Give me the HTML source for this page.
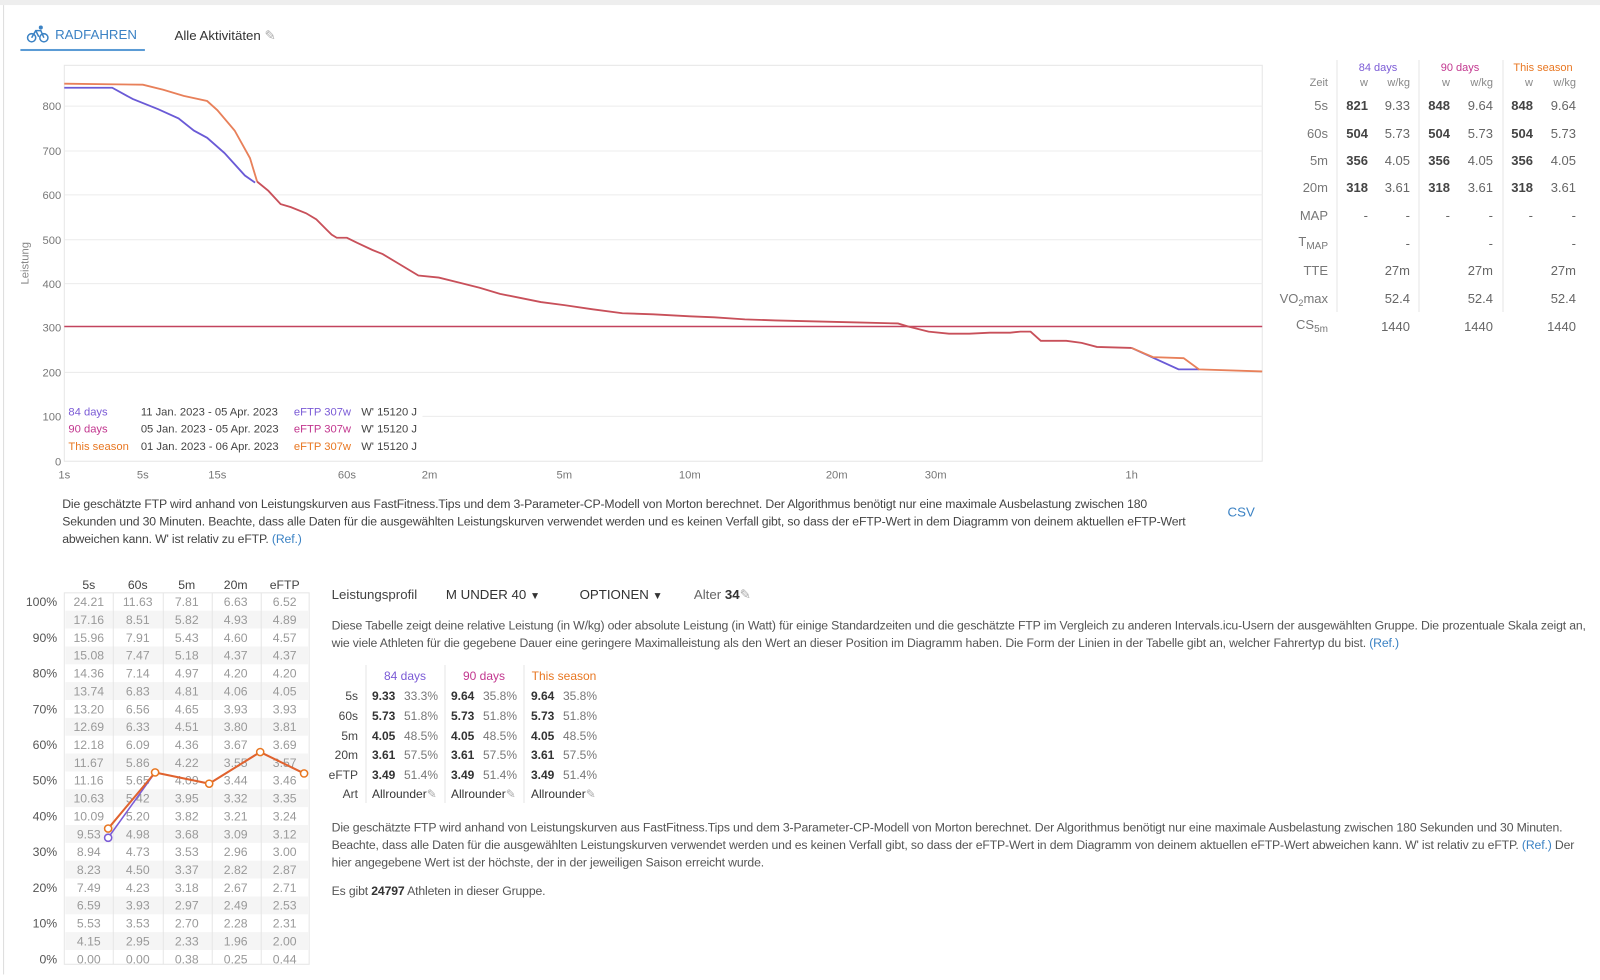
<!DOCTYPE html>
<html><head><meta charset="utf-8"><style>
body{margin:0;width:1600px;height:972px;background:#fff;font-family:"Liberation Sans",sans-serif;color:#333;position:relative;overflow:hidden}
#w{position:absolute;left:0;top:0;width:1568px;height:953px;transform:scale(1.0204);transform-origin:0 0}
.a{position:absolute;white-space:nowrap}
.t{font-size:12px;letter-spacing:-0.15px}
</style></head><body>
<div id="w">
<div class="a" style="left:0;top:0;width:1568px;height:5px;background:#eee"></div>
<div class="a" style="left:3px;top:5px;width:1px;height:950px;background:#ddd"></div>
<svg class="a" style="left:26px;top:24px" width="22" height="18" viewBox="0 0 22 18"><circle cx="5" cy="13" r="4" fill="none" stroke="#3b82c4" stroke-width="1.5"/><circle cx="17" cy="13" r="4" fill="none" stroke="#3b82c4" stroke-width="1.5"/><path d="M5 13 L9 6 L14 6 L17 13 M9 6 L12 12" fill="none" stroke="#3b82c4" stroke-width="1.5"/><circle cx="14" cy="3" r="2" fill="#3b82c4"/></svg>
<div class="a" style="left:54px;top:26px;font-size:13px;color:#3b82c4">RADFAHREN</div>
<div class="a" style="left:20px;top:48px;width:122px;height:2px;background:#5b9bd5"></div>
<div class="a" style="left:171px;top:27px;font-size:13px;color:#333">Alle Aktivitäten <span style="color:#aaa">✎</span></div>

<svg class="a" style="left:0;top:0" width="1240" height="480">
<rect x="63" y="64" width="1174" height="388" fill="none" stroke="#e6e6e6"/>
<g stroke="#ececec"><line x1="63" x2="1237" y1="104" y2="104"/><line x1="63" x2="1237" y1="148" y2="148"/><line x1="63" x2="1237" y1="191" y2="191"/><line x1="63" x2="1237" y1="235" y2="235"/><line x1="63" x2="1237" y1="278" y2="278"/><line x1="63" x2="1237" y1="365" y2="365"/><line x1="63" x2="1237" y1="408" y2="408"/></g>
<g font-size="11" fill="#777" text-anchor="end"><text x="60" y="108">800</text><text x="60" y="152">700</text><text x="60" y="195">600</text><text x="60" y="239">500</text><text x="60" y="282">400</text><text x="60" y="325">300</text><text x="60" y="369">200</text><text x="60" y="412">100</text><text x="60" y="456">0</text></g>
<text x="28" y="258" font-size="11" fill="#888" transform="rotate(-90 28 258)" text-anchor="middle">Leistung</text>
<g font-size="11" fill="#777" text-anchor="middle"><text x="63" y="469">1s</text><text x="140" y="469">5s</text><text x="213" y="469">15s</text><text x="340" y="469">60s</text><text x="421" y="469">2m</text><text x="553" y="469">5m</text><text x="676" y="469">10m</text><text x="820" y="469">20m</text><text x="917" y="469">30m</text><text x="1109" y="469">1h</text></g>
<line x1="63" x2="1237" y1="320" y2="320" stroke="#c2435e" stroke-width="1.5"/>
<polyline fill="none" stroke="#6a5ad6" stroke-width="1.8" points="63,86 110,86 130,97 155,107 175,116 190,128 203,135 220,150 240,172 250,179"/>
<polyline fill="none" stroke="#6a5ad6" stroke-width="1.8" points="1109,341 1155,362 1175,362"/>
<polyline fill="none" stroke="#e8805a" stroke-width="1.8" points="63,82 140,83 160,88 180,94 203,99 213,108 230,128 245,155 252,178"/>
<polyline fill="none" stroke="#c8505a" stroke-width="1.8" points="252,178 263,187 275,200 285,203 300,209 310,215 320,225 325,230 330,233 340,233 350,238 365,245 375,249 390,258 410,270 430,272 450,277 470,282 490,288 510,292 530,296 553,299 580,303 610,307 640,308 676,310 700,311 730,313 760,314 800,315 840,316 880,317 890,320 910,325 930,327 950,327 970,326 990,326 1000,325 1010,325 1020,334 1045,334 1060,336 1075,340 1109,341"/>
<polyline fill="none" stroke="#e8805a" stroke-width="1.8" points="1109,341 1130,350 1160,351 1175,362 1237,364"/>
<rect x="64" y="393" width="350" height="54" fill="#fff"/>
<g font-size="11"><text x="67" y="407" fill="#7b5bd6">84 days</text><text x="67" y="424" fill="#c2378f">90 days</text><text x="67" y="441" fill="#e87722">This season</text>
<g fill="#444"><text x="138" y="407">11 Jan. 2023 - 05 Apr. 2023</text><text x="138" y="424">05 Jan. 2023 - 05 Apr. 2023</text><text x="138" y="441">01 Jan. 2023 - 06 Apr. 2023</text>
<text x="354" y="407">W' 15120 J</text><text x="354" y="424">W' 15120 J</text><text x="354" y="441">W' 15120 J</text></g>
<text x="288" y="407" fill="#7b5bd6">eFTP 307w</text><text x="288" y="424" fill="#c2378f">eFTP 307w</text><text x="288" y="441" fill="#e87722">eFTP 307w</text></g>
</svg>

<div class="a t" style="left:61px;top:486px;width:1118px;line-height:17px;white-space:normal;color:#444">Die geschätzte FTP wird anhand von Leistungskurven aus FastFitness.Tips und dem 3-Parameter-CP-Modell von Morton berechnet. Der Algorithmus benötigt nur eine maximale Ausbelastung zwischen 180 Sekunden und 30 Minuten. Beachte, dass alle Daten für die ausgewählten Leistungskurven verwendet werden und es keinen Verfall gibt, so dass der eFTP-Wert in dem Diagramm von deinem aktuellen eFTP-Wert abweichen kann. W' ist relativ zu eFTP. <span style="color:#3b82c4">(Ref.)</span></div>
<div class="a" style="left:1203px;top:494px;font-size:13px;color:#3b82c4">CSV</div>

<svg class="a" style="left:0;top:560px" width="320" height="400" font-size="12">
<rect x="63" y="21" width="240" height="364" fill="#fff" stroke="#e6e6e6"/>
<g fill="#f5f5f5" id="stripes"></g>
<g stroke="#e6e6e6"><line x1="111" x2="111" y1="21" y2="385"/><line x1="160" x2="160" y1="21" y2="385"/><line x1="208" x2="208" y1="21" y2="385"/><line x1="256" x2="256" y1="21" y2="385"/></g>
<g text-anchor="middle" fill="#444"><text x="87" y="17">5s</text><text x="135" y="17">60s</text><text x="183" y="17">5m</text><text x="231" y="17">20m</text><text x="279" y="17">eFTP</text></g>
<g id="tbl" text-anchor="middle" fill="#999"></g>
<g text-anchor="end" fill="#555"><text x="56" y="34">100%</text><text x="56" y="69">90%</text><text x="56" y="104">80%</text><text x="56" y="139">70%</text><text x="56" y="174">60%</text><text x="56" y="209">50%</text><text x="56" y="244">40%</text><text x="56" y="279">30%</text><text x="56" y="314">20%</text><text x="56" y="349">10%</text><text x="56" y="384">0%</text></g>
<polyline fill="none" stroke="#7b5bd6" stroke-width="1.5" points="106,261 152,197"/>
<circle cx="106" cy="261" r="3.5" fill="#fff" stroke="#7b5bd6" stroke-width="1.5"/>
<polyline fill="none" stroke="#e0622e" stroke-width="2" points="106,252 152,197 205,208 255,177 298,198"/>
<g fill="#fff" stroke="#e87722" stroke-width="1.5"><circle cx="106" cy="252" r="3.5"/><circle cx="152" cy="197" r="3.5"/><circle cx="205" cy="208" r="3.5"/><circle cx="255" cy="177" r="3.5"/><circle cx="298" cy="198" r="3.5"/></g>
</svg>

<div class="a" style="left:325px;top:575px;font-size:13px;color:#444">Leistungsprofil</div>
<div class="a" style="left:437px;top:575px;font-size:13px;color:#333">M UNDER 40 <span style="font-size:10px">▼</span></div>
<div class="a" style="left:568px;top:575px;font-size:13px;color:#333">OPTIONEN <span style="font-size:10px">▼</span></div>
<div class="a" style="left:680px;top:575px;font-size:13px;color:#666">Alter <b style="color:#333">34</b><span style="color:#aaa">✎</span></div>
<div class="a t" style="left:325px;top:605px;width:1240px;line-height:17px;white-space:normal;color:#555">Diese Tabelle zeigt deine relative Leistung (in W/kg) oder absolute Leistung (in Watt) für einige Standardzeiten und die geschätzte FTP im Vergleich zu anderen Intervals.icu-Usern der ausgewählten Gruppe. Die prozentuale Skala zeigt an, wie viele Athleten für die gegebene Dauer eine geringere Maximalleistung als den Wert an dieser Position im Diagramm haben. Die Form der Linien in der Tabelle gibt an, welcher Fahrertyp du bist. <span style="color:#3b82c4">(Ref.)</span></div>

<div class="a t" style="left:325px;top:803px;width:1240px;line-height:17px;white-space:normal;color:#555">Die geschätzte FTP wird anhand von Leistungskurven aus FastFitness.Tips und dem 3-Parameter-CP-Modell von Morton berechnet. Der Algorithmus benötigt nur eine maximale Ausbelastung zwischen 180 Sekunden und 30 Minuten. Beachte, dass alle Daten für die ausgewählten Leistungskurven verwendet werden und es keinen Verfall gibt, so dass der eFTP-Wert in dem Diagramm von deinem aktuellen eFTP-Wert abweichen kann. W' ist relativ zu eFTP. <span style="color:#3b82c4">(Ref.)</span> Der hier angegebene Wert ist der höchste, der in der jeweiligen Saison erreicht wurde.</div>
<div class="a t" style="left:325px;top:866px;color:#555">Es gibt <b style="color:#333">24797</b> Athleten in dieser Gruppe.</div>
</div>

<svg class="a" style="left:1240px;top:50px" width="360" height="290" font-size="13" fill="#444">
<line x1="97" x2="97" y1="10" y2="262" stroke="#e6e6e6"/><line x1="179" x2="179" y1="10" y2="262" stroke="#e6e6e6"/><line x1="263" x2="263" y1="10" y2="262" stroke="#e6e6e6"/>
<g font-size="11" text-anchor="middle"><text x="138" y="21" fill="#7b5bd6">84 days</text><text x="220" y="21" fill="#c2378f">90 days</text><text x="303" y="21" fill="#e87722">This season</text></g>
<g font-size="11" fill="#888" text-anchor="end"><text x="88" y="36">Zeit</text><text x="128" y="36">w</text><text x="170" y="36">w/kg</text><text x="210" y="36">w</text><text x="253" y="36">w/kg</text><text x="293" y="36">w</text><text x="336" y="36">w/kg</text></g>
<g text-anchor="end" fill="#777"><text x="88" y="60">5s</text><text x="88" y="88">60s</text><text x="88" y="115">5m</text><text x="88" y="142">20m</text><text x="88" y="170">MAP</text><text x="88" y="196">T<tspan font-size="10" dy="3">MAP</tspan></text><text x="88" y="225">TTE</text><text x="88" y="253">VO<tspan font-size="9" dy="3">2</tspan><tspan dy="-3">max</tspan></text><text x="88" y="279">CS<tspan font-size="10" dy="3">5m</tspan></text></g>
<g text-anchor="end"><g font-weight="bold" fill="#444"><text x="128" y="60">821</text><text x="210" y="60">848</text><text x="293" y="60">848</text><text x="128" y="88">504</text><text x="210" y="88">504</text><text x="293" y="88">504</text><text x="128" y="115">356</text><text x="210" y="115">356</text><text x="293" y="115">356</text><text x="128" y="142">318</text><text x="210" y="142">318</text><text x="293" y="142">318</text></g>
<g fill="#666"><text x="170" y="60">9.33</text><text x="253" y="60">9.64</text><text x="336" y="60">9.64</text><text x="170" y="88">5.73</text><text x="253" y="88">5.73</text><text x="336" y="88">5.73</text><text x="170" y="115">4.05</text><text x="253" y="115">4.05</text><text x="336" y="115">4.05</text><text x="170" y="142">3.61</text><text x="253" y="142">3.61</text><text x="336" y="142">3.61</text>
<text x="128" y="170">-</text><text x="170" y="170">-</text><text x="210" y="170">-</text><text x="253" y="170">-</text><text x="293" y="170">-</text><text x="336" y="170">-</text>
<text x="170" y="198">-</text><text x="253" y="198">-</text><text x="336" y="198">-</text>
<text x="170" y="225">27m</text><text x="253" y="225">27m</text><text x="336" y="225">27m</text>
<text x="170" y="253">52.4</text><text x="253" y="253">52.4</text><text x="336" y="253">52.4</text>
<text x="170" y="281">1440</text><text x="253" y="281">1440</text><text x="336" y="281">1440</text></g></g>
</svg>

<svg class="a" style="left:320px;top:665px" width="290" height="140" font-size="12">
<g stroke="#e6e6e6"><line x1="46" x2="46" y1="0" y2="138"/><line x1="125" x2="125" y1="0" y2="138"/><line x1="204" x2="204" y1="0" y2="138"/></g>
<g text-anchor="middle"><text x="85" y="15" fill="#7b5bd6">84 days</text><text x="164" y="15" fill="#c2378f">90 days</text><text x="244" y="15" fill="#e87722">This season</text></g>
<g text-anchor="end" fill="#444"><text x="38" y="35">5s</text><text x="38" y="55">60s</text><text x="38" y="75">5m</text><text x="38" y="94">20m</text><text x="38" y="114">eFTP</text><text x="38" y="133">Art</text></g>
<g font-weight="bold" fill="#333"><text x="52" y="35">9.33</text><text x="131" y="35">9.64</text><text x="211" y="35">9.64</text><text x="52" y="55">5.73</text><text x="131" y="55">5.73</text><text x="211" y="55">5.73</text><text x="52" y="75">4.05</text><text x="131" y="75">4.05</text><text x="211" y="75">4.05</text><text x="52" y="94">3.61</text><text x="131" y="94">3.61</text><text x="211" y="94">3.61</text><text x="52" y="114">3.49</text><text x="131" y="114">3.49</text><text x="211" y="114">3.49</text></g>
<g fill="#777" text-anchor="end"><text x="118" y="35">33.3%</text><text x="197" y="35">35.8%</text><text x="277" y="35">35.8%</text><text x="118" y="55">51.8%</text><text x="197" y="55">51.8%</text><text x="277" y="55">51.8%</text><text x="118" y="75">48.5%</text><text x="197" y="75">48.5%</text><text x="277" y="75">48.5%</text><text x="118" y="94">57.5%</text><text x="197" y="94">57.5%</text><text x="277" y="94">57.5%</text><text x="118" y="114">51.4%</text><text x="197" y="114">51.4%</text><text x="277" y="114">51.4%</text></g>
<g fill="#333"><text x="52" y="133">Allrounder<tspan fill="#aaa">✎</tspan></text><text x="131" y="133">Allrounder<tspan fill="#aaa">✎</tspan></text><text x="211" y="133">Allrounder<tspan fill="#aaa">✎</tspan></text></g>
</svg>
<script>
var d=[["24.21","11.63","7.81","6.63","6.52"],["17.16","8.51","5.82","4.93","4.89"],["15.96","7.91","5.43","4.60","4.57"],["15.08","7.47","5.18","4.37","4.37"],["14.36","7.14","4.97","4.20","4.20"],["13.74","6.83","4.81","4.06","4.05"],["13.20","6.56","4.65","3.93","3.93"],["12.69","6.33","4.51","3.80","3.81"],["12.18","6.09","4.36","3.67","3.69"],["11.67","5.86","4.22","3.55","3.57"],["11.16","5.65","4.09","3.44","3.46"],["10.63","5.42","3.95","3.32","3.35"],["10.09","5.20","3.82","3.21","3.24"],["9.53","4.98","3.68","3.09","3.12"],["8.94","4.73","3.53","2.96","3.00"],["8.23","4.50","3.37","2.82","2.87"],["7.49","4.23","3.18","2.67","2.71"],["6.59","3.93","2.97","2.49","2.53"],["5.53","3.53","2.70","2.28","2.31"],["4.15","2.95","2.33","1.96","2.00"],["0.00","0.00","0.38","0.25","0.44"]];
var xs=[87,135,183,231,279],h="",s="";
for(var i=0;i<21;i++){var y=34+i*17.5;if(i%2==1)s+='<rect x="64" y="'+(y-13)+'" width="238" height="17.5"/>';for(var j=0;j<5;j++)h+='<text x="'+xs[j]+'" y="'+y+'">'+d[i][j]+'</text>';}
document.getElementById("tbl").innerHTML=h;document.getElementById("stripes").innerHTML=s;
</script>
</body></html>
